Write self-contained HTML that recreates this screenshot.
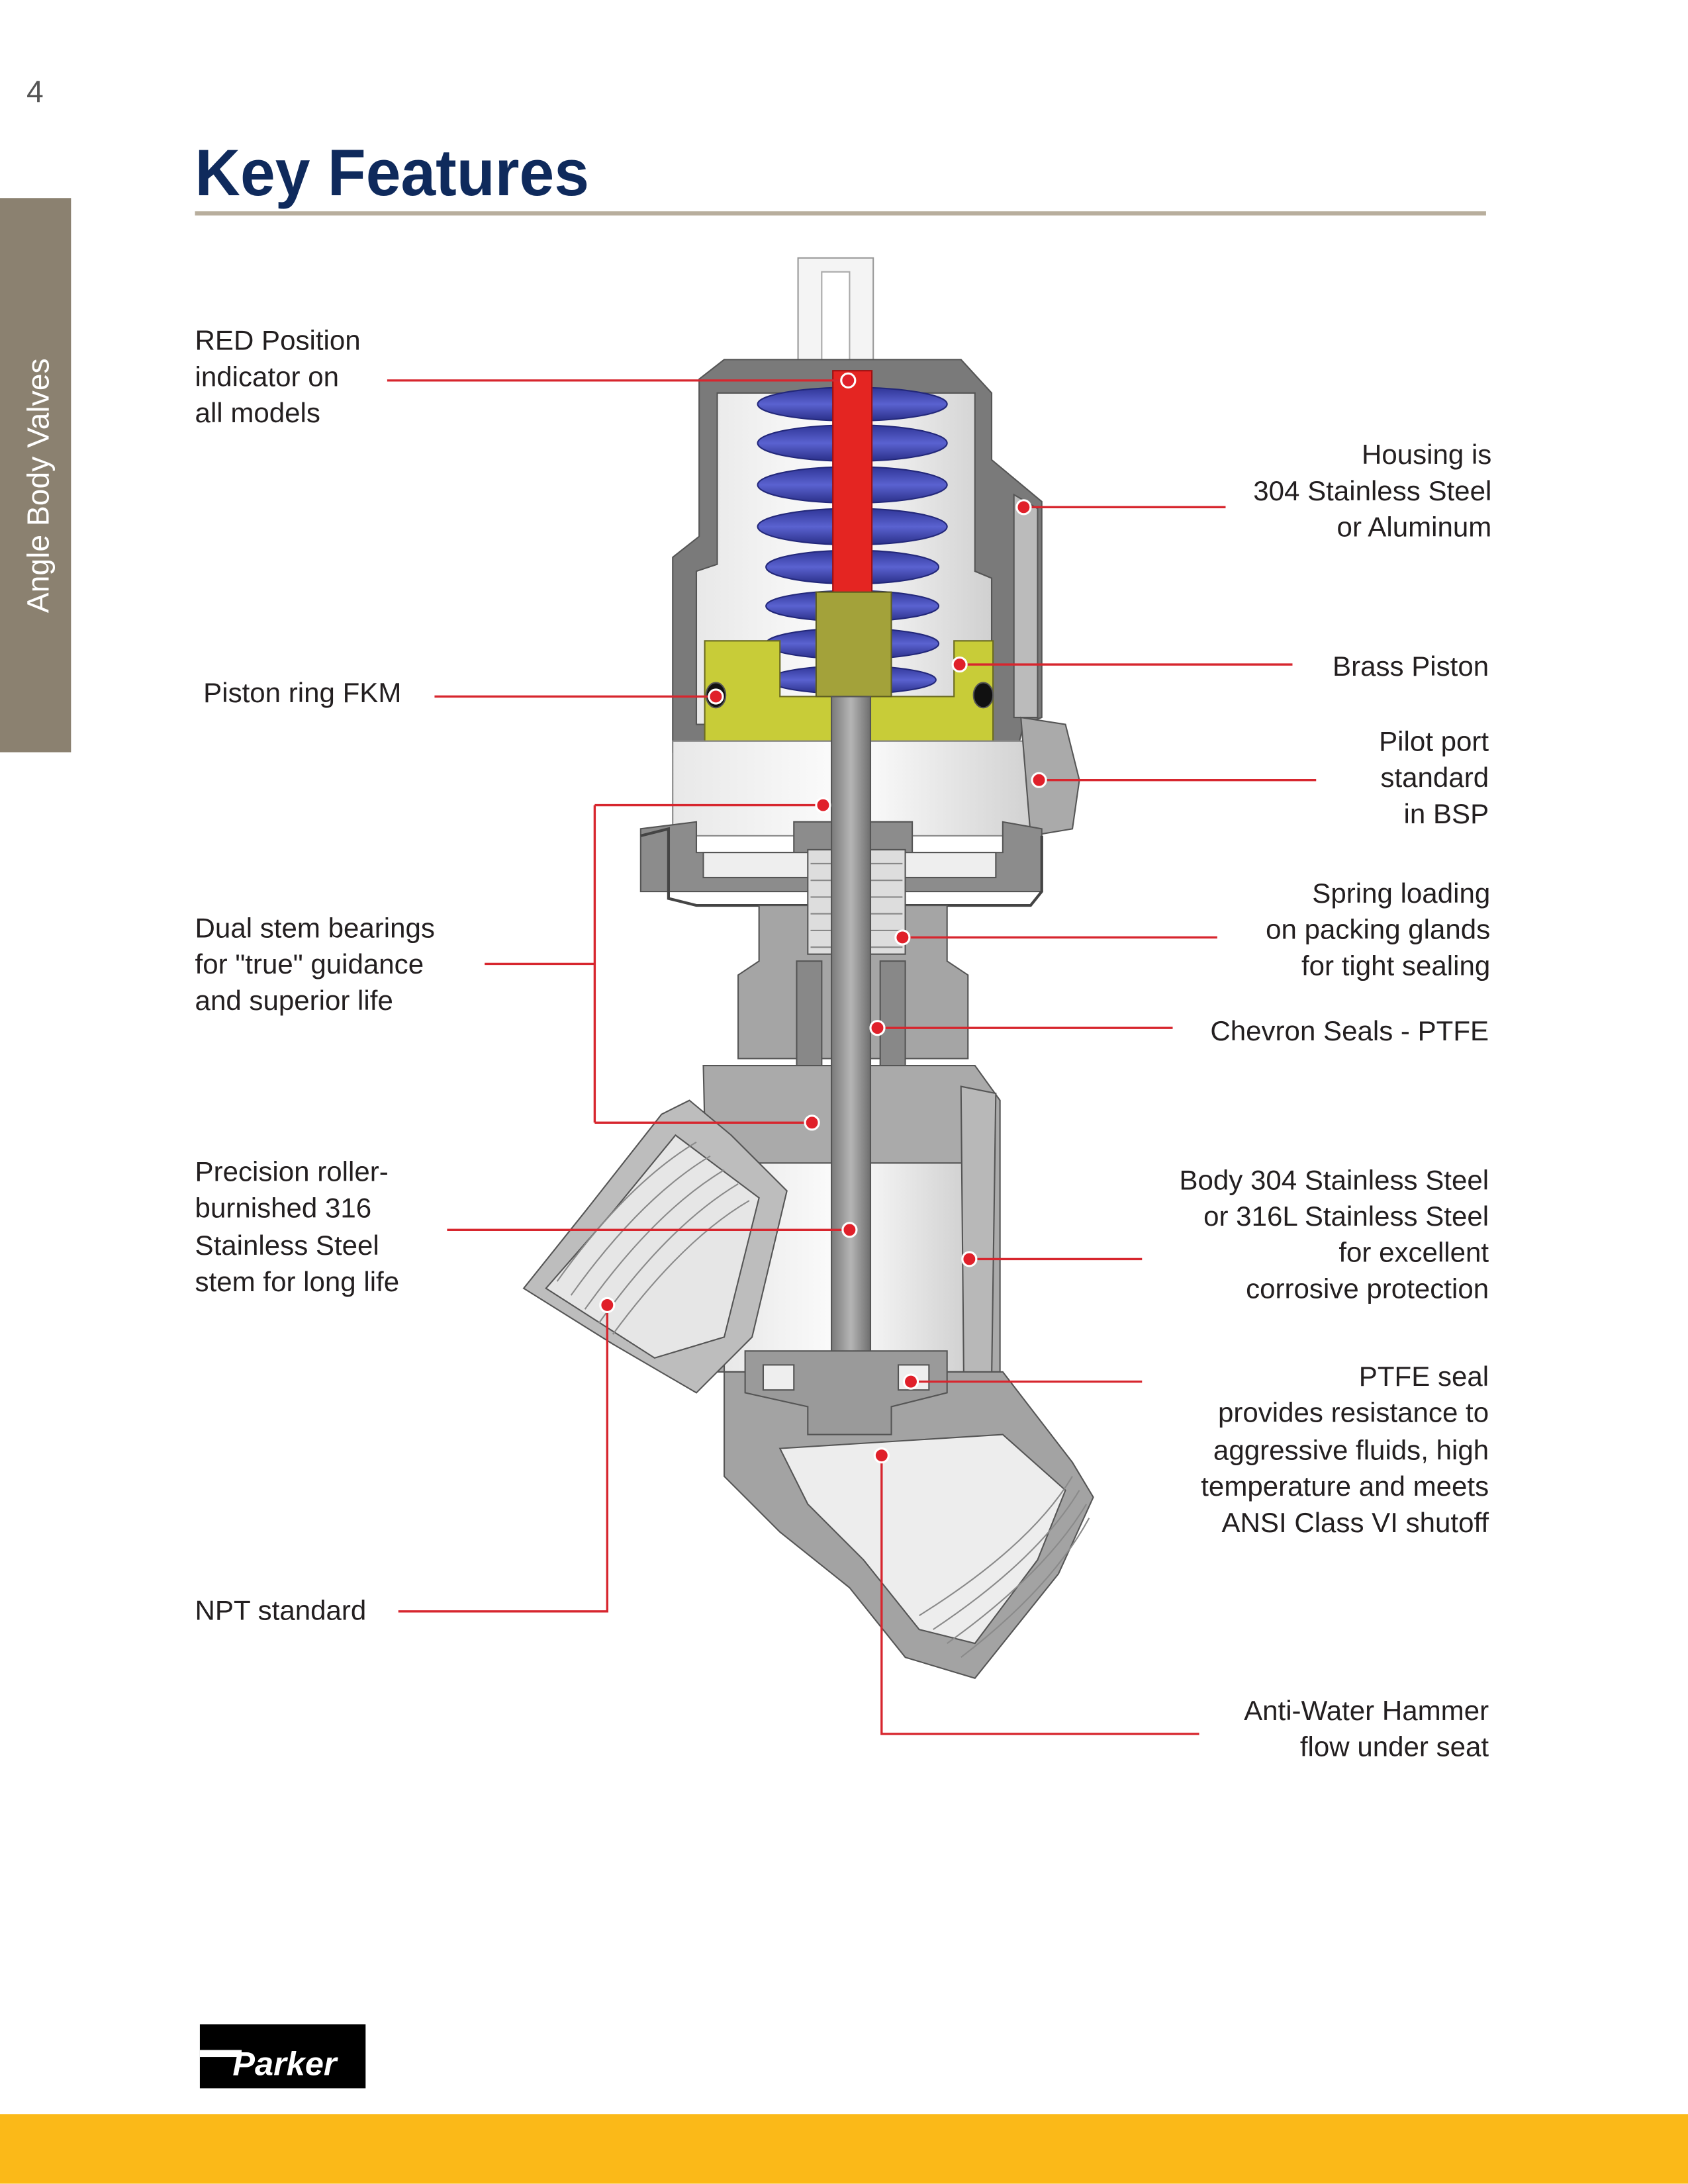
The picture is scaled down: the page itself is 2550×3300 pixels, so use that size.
<!DOCTYPE html>
<html><head><meta charset="utf-8"><style>
html,body{margin:0;padding:0;background:#fff;}
svg{display:block;}
text{font-family:"Liberation Sans",sans-serif;}
.l{font-size:20px;fill:#231f20;}
.r{font-size:20px;fill:#231f20;text-anchor:end;}
.c{stroke:#d7262e;stroke-width:1.6;fill:none;}
.d{fill:#e0202a;stroke:#fff;stroke-width:1.5;}
</style></head><body>
<svg width="2550" height="3300" viewBox="0 0 1212 1568" xmlns="http://www.w3.org/2000/svg">
<defs>
<linearGradient id="g1" x1="0" x2="1"><stop offset="0" stop-color="#e8e8e8"/><stop offset="0.5" stop-color="#fdfdfd"/><stop offset="1" stop-color="#d0d0d0"/></linearGradient>
<linearGradient id="st" x1="0" x2="1"><stop offset="0" stop-color="#7a7a7a"/><stop offset="0.5" stop-color="#b5b5b5"/><stop offset="1" stop-color="#6e6e6e"/></linearGradient>
<linearGradient id="sp" x1="0" x2="0" y1="0" y2="1"><stop offset="0" stop-color="#2f3596"/><stop offset="0.5" stop-color="#5a62d0"/><stop offset="1" stop-color="#2a2f88"/></linearGradient>
</defs>
<rect width="1212" height="1568" fill="#fff"/>
<text x="19" y="73" font-size="22" fill="#555">4</text>
<rect x="0" y="142" width="51" height="398" fill="#8b8170"/>
<text transform="translate(35,440) rotate(-90)" font-size="22" fill="#fff">Angle Body Valves</text>
<text x="140" y="140" font-size="47" font-weight="bold" fill="#0f2a5c" textLength="283" lengthAdjust="spacingAndGlyphs">Key Features</text>
<rect x="140" y="151.5" width="927" height="3" fill="#b8ae9d"/>

<g stroke="#555" stroke-width="1">
<rect x="573" y="185" width="54" height="85" fill="#f4f4f4" stroke="#999"/>
<rect x="590" y="195" width="20" height="70" fill="#fff" stroke="#aaa"/>
<path d="M502 272 L520 258 L690 258 L712 282 L712 330 L730 345 L748 360 L748 515 L735 520 L730 540 L483 540 L483 400 L502 385 Z" fill="#7a7a7a"/>
<path d="M515 282 L700 282 L700 410 L712 415 L712 520 L500 520 L500 410 L515 405 Z" fill="url(#g1)"/>
<path d="M728 355 L745 365 L745 515 L728 515 Z" fill="#bbb"/>
<g fill="url(#sp)" stroke="#23287a">
<ellipse cx="612" cy="290" rx="68" ry="12"/>
<ellipse cx="612" cy="318" rx="68" ry="13"/>
<ellipse cx="612" cy="348" rx="68" ry="13"/>
<ellipse cx="612" cy="378" rx="68" ry="13"/>
<ellipse cx="612" cy="407" rx="62" ry="12"/>
<ellipse cx="612" cy="435" rx="62" ry="11"/>
<ellipse cx="612" cy="462" rx="62" ry="11"/>
<ellipse cx="612" cy="488" rx="60" ry="10"/>
</g>
<rect x="598" y="266" width="28" height="160" fill="#e42522" stroke="#a01010"/>
<path d="M506 460 L560 460 L560 500 L685 500 L685 460 L713 460 L713 532 L506 532 Z" fill="#c8cc38" stroke="#6b6b20"/>
<rect x="586" y="425" width="54" height="75" fill="#a3a23a" stroke="#5e5e20"/>
<ellipse cx="514" cy="499" rx="7" ry="9" fill="#111"/>
<ellipse cx="706" cy="499" rx="7" ry="9" fill="#111"/>
<rect x="483" y="532" width="262" height="68" fill="url(#g1)" stroke="#888"/>
<path d="M733 515 L765 520 L775 560 L770 595 L740 600 Z" fill="#aaa"/>
<path d="M460 595 L500 590 L500 612 L570 612 L570 590 L655 590 L655 612 L720 612 L720 590 L748 595 L748 640 L460 640 Z" fill="#8c8c8c"/>
<rect x="505" y="612" width="210" height="18" fill="#eee"/>
<path d="M460 600 L480 595 L480 645 L500 650 L740 650 L748 640 L748 600" fill="none" stroke="#444" stroke-width="2"/>
<path d="M545 650 L680 650 L680 690 L695 700 L695 760 L530 760 L530 700 L545 690 Z" fill="#a5a5a5"/>
<rect x="580" y="610" width="70" height="75" fill="#ddd"/>
<g stroke="#888" fill="none"><path d="M582 620 H648 M582 632 H648 M582 644 H648 M582 656 H648 M582 668 H648 M582 680 H648"/></g>
<rect x="572" y="690" width="18" height="130" fill="#888"/>
<rect x="632" y="690" width="18" height="130" fill="#888"/>
<path d="M505 765 L700 765 L718 790 L718 985 L510 985 Z" fill="#aaa"/>
<rect x="520" y="835" width="175" height="150" fill="url(#g1)"/>
<path d="M690 780 L715 785 L712 990 L692 990 Z" fill="#b8b8b8"/>
<path d="M376 925 L420 870 L475 800 L495 790 L525 815 L565 855 L540 960 L500 1000 L440 965 Z" fill="#bdbdbd"/>
<path d="M392 925 L440 870 L485 815 L545 860 L520 960 L470 975 Z" fill="#e6e6e6"/>
<g stroke="#8a8a8a" fill="none">
<path d="M400 920 Q450 850 500 820"/><path d="M410 930 Q460 860 510 830"/><path d="M420 940 Q470 870 520 840"/><path d="M430 950 Q480 880 530 850"/><path d="M440 958 Q490 890 538 862"/>
</g>
<path d="M520 985 L720 985 L770 1050 L785 1075 L760 1130 L700 1205 L650 1190 L610 1140 L560 1100 L520 1060 Z" fill="#a3a3a3"/>
<path d="M560 1040 L720 1030 L765 1070 L745 1120 L700 1180 L660 1170 L620 1120 L580 1080 Z" fill="#ededed"/>
<g stroke="#8a8a8a" fill="none">
<path d="M660 1160 Q740 1110 770 1060"/><path d="M670 1170 Q745 1120 775 1070"/><path d="M680 1180 Q750 1130 780 1080"/><path d="M690 1190 Q755 1140 782 1090"/>
</g>
<rect x="597" y="500" width="28" height="500" fill="url(#st)"/>
<path d="M535 970 L680 970 L680 1000 L640 1010 L640 1030 L580 1030 L580 1010 L535 1000 Z" fill="#9a9a9a"/>
<rect x="548" y="980" width="22" height="18" fill="#eee"/>
<rect x="645" y="980" width="22" height="18" fill="#eee"/>
</g>

<path class="c" d="M278 273 H609"/><circle class="d" cx="609" cy="273" r="5"/>
<path class="c" d="M312 500 H514"/><circle class="d" cx="514" cy="500" r="5"/>
<path class="c" d="M348 692 H427 M427 578 V806 M427 578 H591 M427 806 H583"/><circle class="d" cx="591" cy="578" r="5"/><circle class="d" cx="583" cy="806" r="5"/>
<path class="c" d="M321 883 H610"/><circle class="d" cx="610" cy="883" r="5"/>
<path class="c" d="M286 1157 H436 V937"/><circle class="d" cx="436" cy="937" r="5"/>
<path class="c" d="M735 364 H880"/><circle class="d" cx="735" cy="364" r="5"/>
<path class="c" d="M689 477 H928"/><circle class="d" cx="689" cy="477" r="5"/>
<path class="c" d="M746 560 H945"/><circle class="d" cx="746" cy="560" r="5"/>
<path class="c" d="M648 673 H874"/><circle class="d" cx="648" cy="673" r="5"/>
<path class="c" d="M630 738 H842"/><circle class="d" cx="630" cy="738" r="5"/>
<path class="c" d="M696 904 H820"/><circle class="d" cx="696" cy="904" r="5"/>
<path class="c" d="M654 992 H820"/><circle class="d" cx="654" cy="992" r="5"/>
<path class="c" d="M633 1045 V1245 H861"/><circle class="d" cx="633" cy="1045" r="5"/>

<text class="l" x="140" y="251">RED Position</text>
<text class="l" x="140" y="277">indicator on</text>
<text class="l" x="140" y="303">all models</text>
<text class="l" x="146" y="504">Piston ring FKM</text>
<text class="l" x="140" y="673">Dual stem bearings</text>
<text class="l" x="140" y="699">for "true" guidance</text>
<text class="l" x="140" y="725">and superior life</text>
<text class="l" x="140" y="848">Precision roller-</text>
<text class="l" x="140" y="874">burnished 316</text>
<text class="l" x="140" y="901">Stainless Steel</text>
<text class="l" x="140" y="927">stem for long life</text>
<text class="l" x="140" y="1163">NPT standard</text>

<text class="r" x="1071" y="333">Housing is</text>
<text class="r" x="1071" y="359">304 Stainless Steel</text>
<text class="r" x="1071" y="385">or Aluminum</text>
<text class="r" x="1069" y="485">Brass Piston</text>
<text class="r" x="1069" y="539">Pilot port</text>
<text class="r" x="1069" y="565">standard</text>
<text class="r" x="1069" y="591">in BSP</text>
<text class="r" x="1070" y="648">Spring loading</text>
<text class="r" x="1070" y="674">on packing glands</text>
<text class="r" x="1070" y="700">for tight sealing</text>
<text class="r" x="1069" y="747">Chevron Seals - PTFE</text>
<text class="r" x="1069" y="854">Body 304 Stainless Steel</text>
<text class="r" x="1069" y="880">or 316L Stainless Steel</text>
<text class="r" x="1069" y="906">for excellent</text>
<text class="r" x="1069" y="932">corrosive protection</text>
<text class="r" x="1069" y="995">PTFE seal</text>
<text class="r" x="1069" y="1021">provides resistance to</text>
<text class="r" x="1069" y="1048">aggressive fluids, high</text>
<text class="r" x="1069" y="1074">temperature and meets</text>
<text class="r" x="1069" y="1100">ANSI Class VI shutoff</text>
<text class="r" x="1069" y="1235">Anti-Water Hammer</text>
<text class="r" x="1069" y="1261">flow under seat</text>

<rect x="143.5" y="1453.5" width="119" height="46" fill="#000"/>
<rect x="143.5" y="1472" width="30" height="5" fill="#fff"/>
<text x="167" y="1490" font-size="24" font-weight="bold" fill="#fff" font-style="italic">Parker</text>
<rect x="0" y="1518" width="1212" height="50" fill="#fbb918"/>
</svg>
</body></html>
